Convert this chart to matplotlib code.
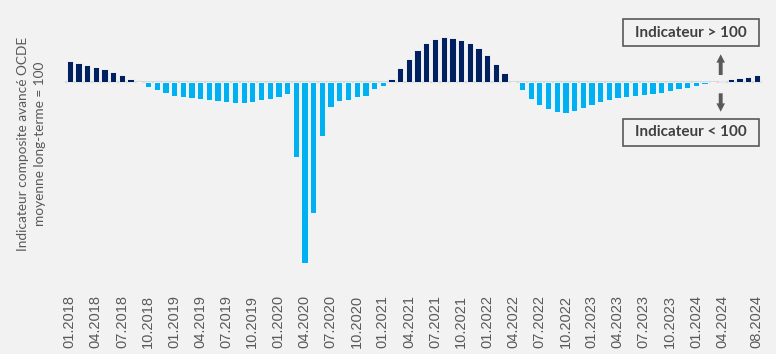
import matplotlib
matplotlib.use("Agg")
import matplotlib.pyplot as plt
from matplotlib.patches import Rectangle, FancyArrowPatch

# --- data -------------------------------------------------------------
months = [f"{m:02d}.{y}" for y in range(2018, 2025) for m in range(1, 13)][:80]

cli_values = [
    100.74, 100.68, 100.60, 100.51, 100.44, 100.33, 100.23, 100.11, 100.00, 99.82,
    99.70, 99.61, 99.50, 99.45, 99.42, 99.37, 99.33, 99.30, 99.27, 99.25,
    99.25, 99.27, 99.33, 99.39, 99.46, 99.55, 97.32, 93.51, 95.32, 98.06,
    99.11, 99.32, 99.36, 99.44, 99.50, 99.73, 99.85, 100.11, 100.50, 100.82,
    101.12, 101.37, 101.51, 101.58, 101.56, 101.49, 101.37, 101.19, 100.95, 100.64,
    100.31, 100.00, 99.69, 99.39, 99.18, 99.01, 98.90, 98.89, 98.96, 99.05,
    99.18, 99.27, 99.35, 99.43, 99.45, 99.49, 99.51, 99.55, 99.60, 99.65,
    99.73, 99.78, 99.85, 99.90, 100.00, 100.03, 100.08, 100.13, 100.17, 100.23,
]

tick_labels = ['01.2018', '04.2018', '07.2018', '10.2018', '01.2019', '04.2019',
               '07.2019', '10.2019', '01.2020', '04.2020', '07.2020', '10.2020',
               '01.2021', '04.2021', '07.2021', '10.2021', '01.2022', '04.2022',
               '07.2022', '10.2022', '01.2023', '04.2023', '07.2023', '10.2023',
               '01.2024', '04.2024', '08.2024']

baseline = 100
above_label = "Indicateur > 100"
below_label = "Indicateur < 100"
ylabel = "Indicateur composite avancé OCDE\nmoyenne long-terme = 100"

# --- style ------------------------------------------------------------
BG = "#F2F2F2"
DARK = "#002060"
LIGHT = "#00B0F0"
GREY = "#595959"

W, H = 776, 354
fig = plt.figure(figsize=(W / 100, H / 100), dpi=100, facecolor=BG)

L, R = 61.9, 767.2
top_px, bot_px = 25, 270
ax = fig.add_axes([L / W, (H - bot_px) / H, (R - L) / W, (bot_px - top_px) / H])
ax.set_facecolor(BG)

x = list(range(len(months)))
colors = [DARK if v >= baseline else LIGHT for v in cli_values]
heights = [v - baseline for v in cli_values]
ax.bar(x, heights, bottom=baseline, width=0.72, color=colors,
       edgecolor="white", linewidth=0.6, zorder=3)
ax.hlines(baseline, -0.6, len(months) - 0.4, color="#D9D9D9", linewidth=1.5, zorder=2)

ax.set_xlim(-0.9, 80.2)
scale = 28.0  # px per index unit
ax.set_ylim(baseline - (bot_px - 81.7) / scale, baseline + (81.7 - top_px) / scale)

tick_pos = [months.index(t) for t in tick_labels]
ax.set_xticks(tick_pos)
ax.set_xticklabels(tick_labels, rotation=90, fontsize=10.5, color=GREY,
                   family="Liberation Sans")
ax.tick_params(axis="x", length=0, pad=18)
ax.set_yticks([])
for s in ax.spines.values():
    s.set_visible(False)

fig.text(31.7 / W, 1 - 144 / H, ylabel, rotation=90, ha="center", va="center",
         fontsize=9.8, color=GREY, family="Lato", linespacing=1.45)


def px2fig(px, py):
    return px / W, 1 - py / H


# annotation boxes
for label, (x0, y0, x1, y1) in [(above_label, (622.5, 19.5, 759, 45.7)),
                                (below_label, (623, 119, 759, 146))]:
    fx0, fy1 = px2fig(x0, y1)
    rect = Rectangle((fx0, fy1), (x1 - x0) / W, (y1 - y0) / H, transform=fig.transFigure,
                     facecolor=BG, edgecolor=GREY, linewidth=1.2)
    fig.add_artist(rect)
    fx, fy = px2fig((x0 + x1) / 2, (y0 + y1) / 2)
    fig.text(fx, fy, label, ha="center", va="center", fontsize=11, color="#404040",
             family="Lato", fontweight="bold")

# arrows
astyle = "simple,head_length=0.6,head_width=0.62,tail_width=0.28"
for (xa, ya), (xb, yb) in [((720.7, 75), (720.7, 54.3)), ((720.7, 93.3), (720.7, 111.7))]:
    fig.add_artist(FancyArrowPatch(px2fig(xa, ya), px2fig(xb, yb),
                                   transform=fig.transFigure, arrowstyle=astyle,
                                   mutation_scale=10, color=GREY, linewidth=0,
                                   shrinkA=0, shrinkB=0))

fig.savefig("out.png", dpi=100, facecolor=BG)
